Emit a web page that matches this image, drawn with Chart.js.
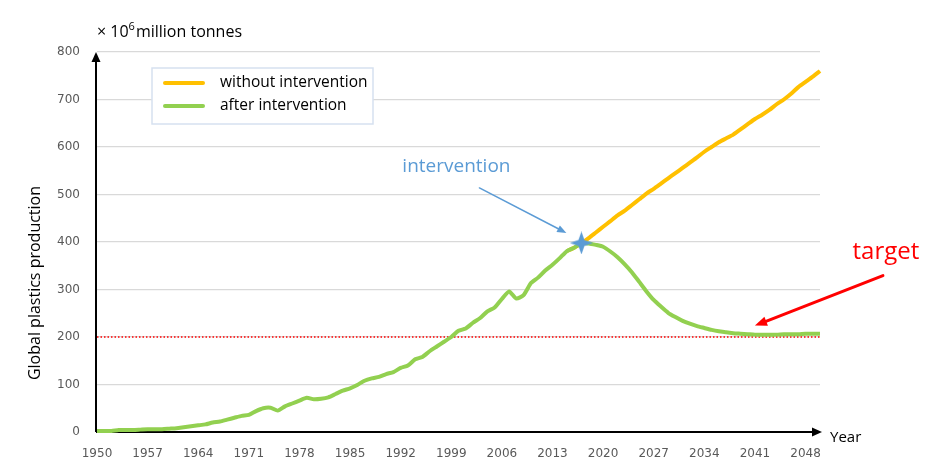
<!DOCTYPE html>
<html>
<head>
<meta charset="utf-8">
<script src="https://cdn.jsdelivr.net/npm/chart.js@4.4.1/dist/chart.umd.min.js"></script>
<style>
    html, body { margin: 0; padding: 0; background: #fff; }
</style>
</head>
<body>
<canvas id="plasticsChart" width="937" height="476"></canvas>
<script>
// years 1950..2050 on the category axis
const firstYear = 1950;
const lastYear = 2050;

// historical production 1950..2017 (both scenarios share it)
const historical = [
    2, 2, 2, 4, 4, 4, 5, 6, 6, 6,
    7, 8, 10, 12, 14, 16, 20, 22, 26, 30,
    34, 36, 44, 50, 51, 45, 54, 60, 66, 72,
    69, 70, 73, 80, 87, 92, 99, 108, 113, 116,
    122, 126, 135, 140, 153, 158, 170, 180, 190, 200,
    213, 218, 230, 240, 254, 262, 280, 296, 281, 288,
    313, 325, 340, 352, 366, 381, 388, 397
];

// projection without intervention, 2018..2050
const withoutIntervention = [
    408, 420, 432, 444, 456, 466, 478, 490, 502, 512,
    523, 534, 545, 556, 567, 578, 590, 600, 610, 618,
    626, 637, 648, 659, 668, 678, 690, 700, 712, 726,
    737, 748, 760
];

// projection after intervention, 2018..2050
const afterIntervention = [
    397, 394, 390, 380, 368, 353, 336, 316, 296, 278,
    264, 251, 242, 234, 228, 223, 219, 215, 212, 210,
    208, 207, 206, 205, 205, 205, 205, 206, 206, 206,
    207, 207, 207
];

const targetValue = 200;
const interventionYear = 2017;
const interventionValue = 398;
const yTicks = [0, 100, 200, 300, 400, 500, 600, 700, 800];

const years = [];
for (let y = firstYear; y <= lastYear; y++) years.push(String(y));

const histEnd = interventionYear - firstYear; // index of 2017
const greenData = historical.concat(afterIntervention);
// orange starts a little before the split so it shows under the green line
const orangeData = years.map((y, i) => {
    if (i < histEnd - 2) return null;
    if (i <= histEnd) return historical[i];
    return withoutIntervention[i - histEnd - 1];
});
const targetData = years.map(() => targetValue);
const starData = years.map(y => Number(y) === interventionYear ? interventionValue : null);

const ORANGE = '#FFC000';
const GREEN = '#92D050';
const BLUE = '#5B9BD5';
const RED = '#FF0000';

function makeStar(size, color) {
    const c = document.createElement('canvas');
    c.width = size;
    c.height = size;
    const g = c.getContext('2d');
    const r = size / 2, k = r * 0.26;
    g.fillStyle = color;
    g.beginPath();
    g.moveTo(r, 0);
    g.lineTo(r + k, r - k);
    g.lineTo(size, r);
    g.lineTo(r + k, r + k);
    g.lineTo(r, size);
    g.lineTo(r - k, r + k);
    g.lineTo(0, r);
    g.lineTo(r - k, r - k);
    g.closePath();
    g.fill();
    return c;
}

function drawArrow(ctx, x1, y1, x2, y2, color, width, head) {
    const a = Math.atan2(y2 - y1, x2 - x1);
    ctx.save();
    ctx.strokeStyle = color;
    ctx.fillStyle = color;
    ctx.lineWidth = width;
    ctx.beginPath();
    ctx.moveTo(x1, y1);
    ctx.lineTo(x2 - Math.cos(a) * head * 0.7, y2 - Math.sin(a) * head * 0.7);
    ctx.stroke();
    ctx.beginPath();
    ctx.moveTo(x2, y2);
    ctx.lineTo(x2 - head * Math.cos(a - 0.38), y2 - head * Math.sin(a - 0.38));
    ctx.lineTo(x2 - head * Math.cos(a + 0.38), y2 - head * Math.sin(a + 0.38));
    ctx.closePath();
    ctx.fill();
    ctx.restore();
}

const TEXT_FONT = '"Open Sans", "Noto Sans", sans-serif';
const TICK_FONT = { family: '"DejaVu Sans", sans-serif', size: 12 };

// black axes with arrow heads, under the data lines
const axesPlugin = {
    id: 'arrowAxes',
    beforeDatasetsDraw(chart) {
        const ctx = chart.ctx;
        const a = chart.chartArea;
        ctx.save();
        ctx.strokeStyle = '#000';
        ctx.fillStyle = '#000';
        ctx.lineWidth = 2;
        ctx.beginPath();
        ctx.moveTo(a.left - 1, a.bottom);
        ctx.lineTo(a.right - 6, a.bottom);
        ctx.moveTo(a.left - 1, a.bottom);
        ctx.lineTo(a.left - 1, a.top + 8);
        ctx.stroke();
        ctx.beginPath();
        ctx.moveTo(a.right + 2, a.bottom);
        ctx.lineTo(a.right - 8, a.bottom - 4.5);
        ctx.lineTo(a.right - 8, a.bottom + 4.5);
        ctx.closePath();
        ctx.fill();
        ctx.beginPath();
        ctx.moveTo(a.left - 1, a.top);
        ctx.lineTo(a.left - 5.5, a.top + 10);
        ctx.lineTo(a.left + 3.5, a.top + 10);
        ctx.closePath();
        ctx.fill();
        ctx.restore();
    }
};

// titles, legend and annotations
const textPlugin = {
    id: 'extraText',
    afterDraw(chart) {
        const ctx = chart.ctx;
        const a = chart.chartArea;
        const xs = chart.scales.x, ys = chart.scales.y;
        ctx.save();
        ctx.textBaseline = 'alphabetic';
        ctx.textAlign = 'left';
        ctx.fillStyle = '#000';

        // unit title
        ctx.font = '16px ' + TEXT_FONT;
        let x = a.left;
        ctx.fillText('× 10', x, 37);
        x += ctx.measureText('× 10').width;
        ctx.font = '11px ' + TEXT_FONT;
        ctx.fillText('6', x, 30);
        x += ctx.measureText('6').width + 1;
        ctx.font = '16px ' + TEXT_FONT;
        ctx.fillText('million tonnes', x, 37);

        // x title
        ctx.font = '15px ' + TEXT_FONT;
        ctx.textBaseline = 'middle';
        ctx.fillText('Year', a.right + 10, a.bottom + 6);

        // y title
        ctx.save();
        ctx.translate(35, 283);
        ctx.rotate(-Math.PI / 2);
        ctx.textAlign = 'center';
        ctx.font = '16px ' + TEXT_FONT;
        ctx.fillText('Global plastics production', 0, 0);
        ctx.restore();

        // legend box
        const lx = 152, ly = 68, lw = 221, lh = 56;
        ctx.fillStyle = '#fff';
        ctx.fillRect(lx, ly, lw, lh);
        ctx.strokeStyle = '#D6E1F0';
        ctx.lineWidth = 1.5;
        ctx.strokeRect(lx, ly, lw, lh);
        const items = [chart.data.datasets[1], chart.data.datasets[0]];
        items.forEach((ds, i) => {
            const yy = ly + 15 + i * 23;
            ctx.strokeStyle = ds.borderColor;
            ctx.lineWidth = 4;
            ctx.lineCap = 'round';
            ctx.beginPath();
            ctx.moveTo(lx + 13, yy);
            ctx.lineTo(lx + 51, yy);
            ctx.stroke();
            ctx.fillStyle = '#000';
            ctx.font = '15.5px ' + TEXT_FONT;
            ctx.textAlign = 'left';
            ctx.fillText(ds.label, lx + 68, yy);
        });

        // intervention annotation
        const sx = xs.getPixelForValue(interventionYear - firstYear);
        const sy = ys.getPixelForValue(interventionValue);
        ctx.fillStyle = BLUE;
        ctx.font = '19px ' + TEXT_FONT;
        ctx.textAlign = 'center';
        ctx.fillText('intervention', sx - 125, sy - 76);
        drawArrow(ctx, sx - 102, sy - 55, sx - 15, sy - 10, BLUE, 1.5, 10);

        // target annotation
        const tx = xs.getPixelForValue(2041 - firstYear);
        const ty = ys.getPixelForValue(224);
        ctx.fillStyle = RED;
        ctx.font = '24px ' + TEXT_FONT;
        ctx.fillText('target', tx + 131, ty - 73);
        drawArrow(ctx, tx + 128, ty - 50, tx, ty, RED, 3, 13);

        ctx.restore();
    }
};

new Chart(document.getElementById('plasticsChart'), {
    type: 'line',
    data: {
        labels: years,
        datasets: [
            {
                label: 'after intervention',
                data: greenData,
                borderColor: GREEN,
                borderWidth: 4,
                pointRadius: 0,
                tension: 0.2,
                clip: 6,
                order: 1
            },
            {
                label: 'without intervention',
                data: orangeData,
                borderColor: ORANGE,
                borderWidth: 4,
                pointRadius: 0,
                tension: 0.2,
                clip: 6,
                order: 2
            },
            {
                label: 'target',
                data: targetData,
                borderColor: RED,
                borderWidth: 1.5,
                borderDash: [1.5, 2],
                pointRadius: 0,
                order: 3
            },
            {
                label: 'intervention',
                data: starData,
                showLine: false,
                pointStyle: makeStar(23, BLUE),
                pointRadius: 11,
                clip: false,
                order: 0
            }
        ]
    },
    options: {
        responsive: false,
        devicePixelRatio: 1,
        animation: false,
        layout: { padding: { top: 52, right: 117, left: 0, bottom: 0 } },
        plugins: {
            legend: { display: false },
            tooltip: { enabled: false }
        },
        scales: {
            x: {
                type: 'category',
                offset: false,
                grid: { display: false },
                border: { display: false },
                ticks: {
                    autoSkip: false,
                    maxRotation: 0,
                    padding: 7,
                    color: '#595959',
                    font: TICK_FONT,
                    callback: (v, i) => i % 7 === 0 ? years[i] : ''
                },
                afterFit: s => { s.height = 44; }
            },
            y: {
                min: 0,
                max: 800,
                afterBuildTicks: s => { s.ticks = yTicks.map(v => ({ value: v })); },
                grid: { color: '#D9D9D9', lineWidth: 1.2, drawTicks: false },
                border: { display: false },
                ticks: {
                    padding: 17,
                    color: '#595959',
                    font: TICK_FONT
                },
                afterFit: s => { s.width = 97; }
            }
        }
    },
    plugins: [axesPlugin, textPlugin]
});
</script>
</body>
</html>
